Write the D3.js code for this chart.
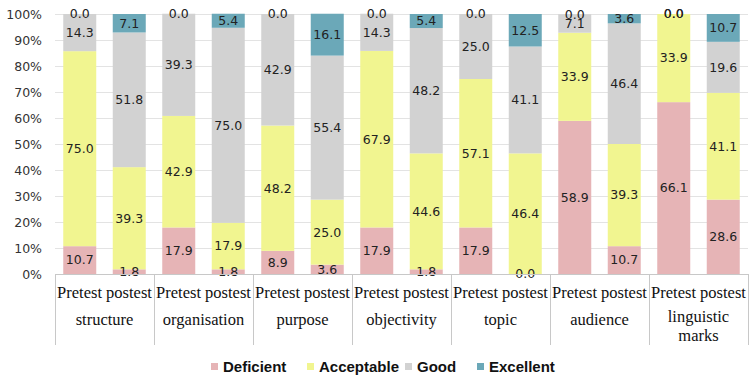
<!DOCTYPE html>
<html><head><meta charset="utf-8">
<script src="https://cdn.jsdelivr.net/npm/d3@7"></script>
<style>body{margin:0;background:#fff;}svg{display:block;}</style>
</head><body>
<svg id="c" width="756" height="383"></svg>
<script>
const categories = ["structure","organisation","purpose","objectivity","topic","audience","linguistic marks"];
const tests = ["Pretest","postest"];
const seriesNames = ["Deficient","Acceptable","Good","Excellent"];
const seriesColors = ["#e6b4b6","#f1f590","#d2d2d2","#6ba8b8"];
// values per bar (category x test), order: Deficient, Acceptable, Good, Excellent
const deficient  = [10.7, 1.8, 17.9, 1.8, 8.9, 3.6, 17.9, 1.8, 17.9, 0.0, 58.9, 10.7, 66.1, 28.6];
const acceptable = [75.0, 39.3, 42.9, 17.9, 48.2, 25.0, 67.9, 44.6, 57.1, 46.4, 33.9, 39.3, 33.9, 41.1];
const good       = [14.3, 51.8, 39.3, 75.0, 42.9, 55.4, 14.3, 48.2, 25.0, 41.1, 7.1, 46.4, 0.0, 19.6];
const excellent  = [0.0, 7.1, 0.0, 5.4, 0.0, 16.1, 0.0, 5.4, 0.0, 12.5, 0.0, 3.6, 0.0, 10.7];
const yTicks = [0,10,20,30,40,50,60,70,80,90,100];

const svg = d3.select("#c");
const mLeft = 55, mRight = 748, mTop = 14, mBottom = 274;

const bars = [];
categories.forEach((c,i)=>tests.forEach((t,j)=>bars.push({key:c+"|"+t, cat:c, test:t, idx:i*2+j})));
const series = [deficient, acceptable, good, excellent];

const x = d3.scaleBand().domain(bars.map(b=>b.key)).range([mLeft,mRight]).paddingInner(1/3).paddingOuter(1/6);
const xc = d3.scaleBand().domain(categories).range([mLeft,mRight]);
const y = d3.scaleLinear().domain([0,100]).range([mBottom,mTop]);

// gridlines
svg.append("g").selectAll("line").data(yTicks.filter(d=>d>0)).join("line")
  .attr("x1",mLeft).attr("x2",mRight).attr("y1",d=>Math.round(y(d))+0.5).attr("y2",d=>Math.round(y(d))+0.5)
  .attr("stroke","#e3e3e3").attr("stroke-width",1);

// y axis labels
const yAxis = d3.axisLeft(y).tickValues(yTicks).tickFormat(d=>d+"%").tickSize(0).tickPadding(13);
const ya = svg.append("g").attr("transform",`translate(${mLeft},0)`).call(yAxis);
ya.select(".domain").remove();
ya.selectAll("text").attr("font-family","DejaVu Sans, Verdana, sans-serif").attr("font-size",12.5).attr("fill","#333");

// stack
const rows = bars.map(b=>{const o={key:b.key}; seriesNames.forEach((s,k)=>o[s]=series[k][b.idx]); return o;});
const stacked = d3.stack().keys(seriesNames)(rows);

const g = svg.append("g");
stacked.forEach((layer,k)=>{
  g.append("g").selectAll("rect").data(layer).join("rect")
    .attr("x",d=>x(d.data.key)).attr("width",x.bandwidth())
    .attr("y",d=>y(d[1])).attr("height",d=>y(d[0])-y(d[1]))
    .attr("fill",seriesColors[k]);
});
// labels
stacked.forEach((layer,k)=>{
  g.append("g").selectAll("text").data(layer).join("text")
    .attr("x",d=>x(d.data.key)+x.bandwidth()/2)
    .attr("y",d=>y((d[0]+d[1])/2))
    .attr("dy","0.35em").attr("text-anchor","middle")
    .attr("font-family","DejaVu Sans, Verdana, sans-serif").attr("font-size",12.5)
    .attr("fill","#222")
    .text(d=>(d[1]-d[0]).toFixed(1));
});

// x axis line
svg.append("line").attr("x1",mLeft).attr("x2",mRight).attr("y1",mBottom+0.5).attr("y2",mBottom+0.5)
  .attr("stroke","#c8c8c8");
// dividers
const divs = categories.map(c=>xc(c)).concat([mRight]);
svg.append("g").selectAll("line").data(divs).join("line")
  .attr("x1",d=>Math.round(d)+0.5).attr("x2",d=>Math.round(d)+0.5).attr("y1",mBottom).attr("y2",345)
  .attr("stroke","#c8c8c8");

// test labels
svg.append("g").selectAll("text").data(categories).join("text")
  .attr("x",c=>xc(c)+xc.bandwidth()/2).attr("y",292).attr("dy","0.35em")
  .attr("text-anchor","middle").attr("font-family","Liberation Serif, Times New Roman, serif")
  .attr("font-size",16.5).attr("fill","#111").text(tests.join(" "));
// category labels
svg.append("g").selectAll("text").data(categories).join("text")
  .attr("text-anchor","middle").attr("font-family","Liberation Serif, Times New Roman, serif")
  .attr("font-size",16.5).attr("fill","#111")
  .each(function(c){
    const t=d3.select(this); const cx=xc(c)+xc.bandwidth()/2;
    const parts = c==="linguistic marks" ? ["linguistic","marks"] : [c];
    const y0 = parts.length>1 ? 316 : 319;
    parts.forEach((p,i)=>t.append("tspan").attr("x",cx).attr("y",y0+i*19).attr("dy","0.35em").text(p));
  });

// legend
const legX = [211,307,405,477];
const leg = svg.append("g");
seriesNames.forEach((s,k)=>{
  leg.append("rect").attr("x",legX[k]).attr("y",363).attr("width",7).attr("height",7).attr("fill",seriesColors[k]);
  leg.append("text").attr("x",legX[k]+12).attr("y",367).attr("dy","0.35em")
    .attr("font-family","Liberation Sans, Arial, sans-serif").attr("font-weight","bold")
    .attr("font-size",15).attr("fill","#111").text(s);
});
</script>
</body></html>
